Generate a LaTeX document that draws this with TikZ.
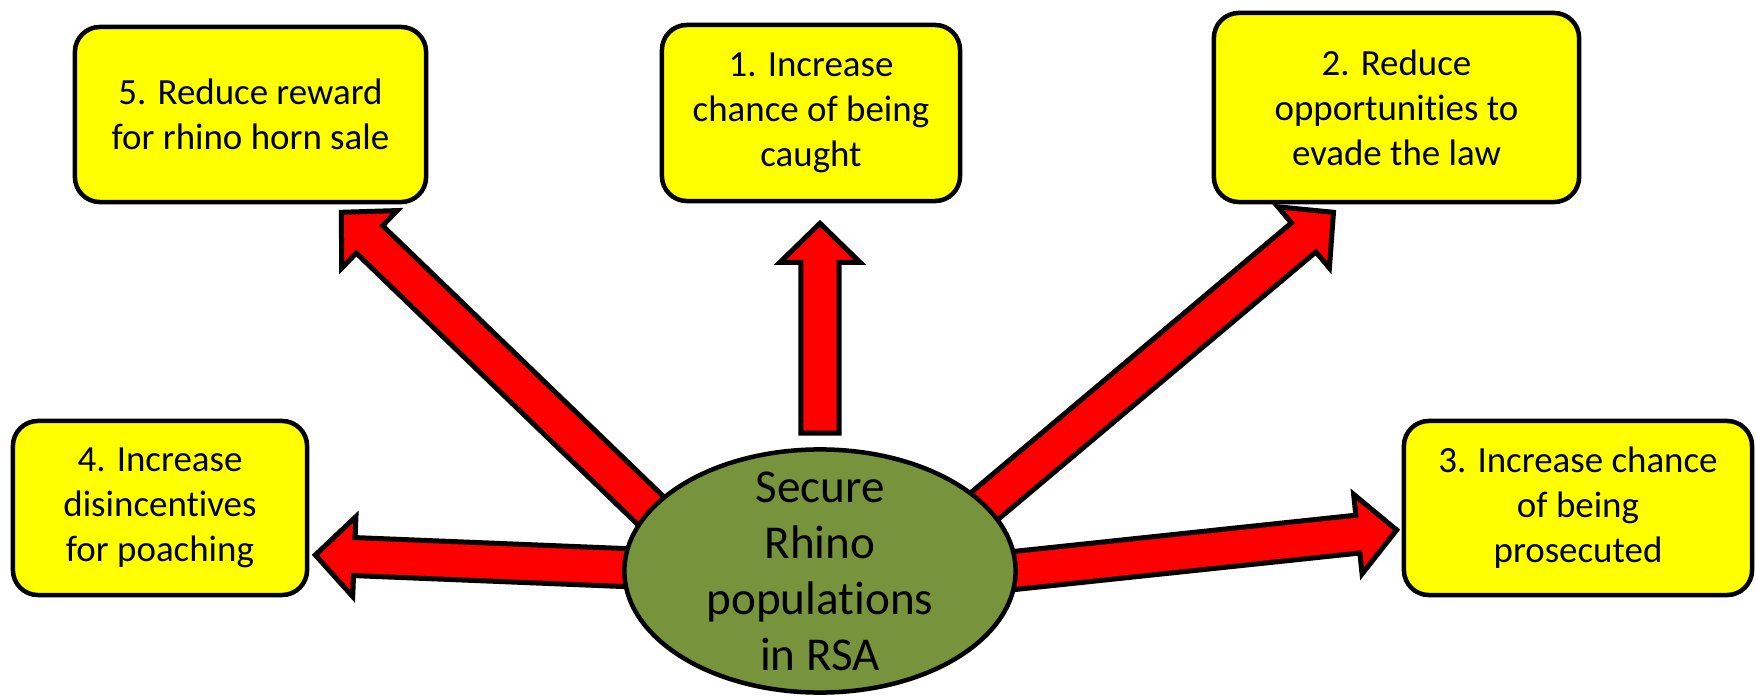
\documentclass[tikz,border=0pt]{standalone}
\usepackage{fontspec}
\setmainfont{Carlito}[Ligatures=NoCommon]
\usetikzlibrary{calc,shapes.geometric,backgrounds}
\definecolor{boxyellow}{RGB}{255,255,0}
\definecolor{arrowred}{RGB}{255,0,0}
\definecolor{rhinogreen}{RGB}{119,147,60}

\tikzset{
  measure/.style={draw, line width=0.045cm, fill=boxyellow, rounded corners=0.25cm,
    align=center, inner sep=0pt, font=\fontsize{10.5}{12.8}\selectfont},
  aim/.style={draw, line width=0.045cm, fill=rhinogreen, ellipse, inner sep=0pt,
    minimum width=3.91cm, minimum height=2.43cm},
  arrowbody/.style={draw, line width=0.05cm, fill=arrowred, line join=miter}
}

\newcommand{\arrshaft}{0.19cm}
\newcommand{\arrhead}{0.40cm}
\newcommand{\arrlen}{0.39cm}
% fat arrow from #1 to #2
\newcommand{\blockarrow}[2]{%
  \coordinate (hb) at ($(#2)!\arrlen!(#1)$);
  \draw[arrowbody] ($(#1)!\arrshaft!90:(#2)$) -- ($(hb)!\arrshaft!-90:(#1)$)
    -- ($(hb)!\arrhead!-90:(#1)$) -- (#2) -- ($(hb)!\arrhead!90:(#1)$)
    -- ($(hb)!\arrshaft!90:(#1)$) -- ($(#1)!\arrshaft!-90:(#2)$) -- cycle;}

\begin{document}
\begin{tikzpicture}[x=0.01cm, y=-0.01cm]
  \useasboundingbox (0,0) rectangle (1756,697);

  \node[measure, minimum width=3.51cm, minimum height=1.75cm] (m5) at (250.5,114.5)
    {5. Reduce reward\\for rhino horn sale};
  \node[measure, minimum width=2.98cm, minimum height=1.76cm] (m1) at (811,113)
    {1. Increase\\chance of being\\caught};
  \node[measure, minimum width=3.65cm, minimum height=1.89cm] (m2) at (1396.5,107.5)
    {2. Reduce\\opportunities to\\evade the law};
  \node[measure, minimum width=2.94cm, minimum height=1.74cm] (m4) at (160,508)
    {4. Increase\\disincentives\\for poaching};
  \node[measure, minimum width=3.48cm, minimum height=1.74cm] (m3) at (1578,508)
    {3. Increase chance\\of being\\prosecuted};

  \node[aim] (rhino) at (820,571) {};
  \node[align=center, font=\fontsize{13.4}{15.9}\selectfont] (rhinotext) at (rhino)
    {Secure\\Rhino\\populations\\in RSA};

  \coordinate (s1) at ($(rhino.north)+(0,-14)$);
  \coordinate (e1) at ($(m1.south)+(9,20)$);
  \coordinate (s2) at ($(rhino)+(155,-57)$);
  \coordinate (e2) at ($(m2.south)+(-63,8)$);
  \coordinate (s3) at ($(rhino)+(180,1)$);
  \coordinate (e3) at ($(m3.west)+(-5,22)$);
  \coordinate (s4) at ($(rhino)+(-160,-2)$);
  \coordinate (e4) at ($(m4.east)+(6,47)$);
  \coordinate (s5) at ($(rhino)+(-145,-37)$);
  \coordinate (e5) at ($(m5.south east)+(-87,8)$);

  \begin{pgfonlayer}{background}
    \foreach \s/\e in {s1/e1, s2/e2, s3/e3, s4/e4, s5/e5}
      \blockarrow{\s}{\e};
  \end{pgfonlayer}
\end{tikzpicture}
\end{document}
